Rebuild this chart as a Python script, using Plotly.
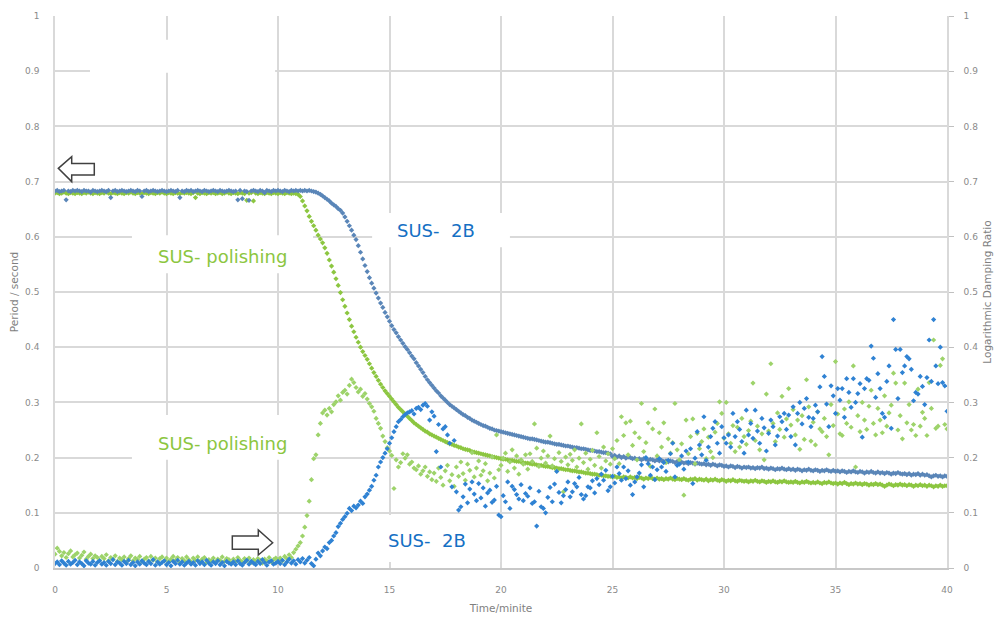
import plotly.graph_objects as go

# ---------------- data ----------------
# sampling instants (minutes), one reading every 0.1 min
time_min = [round(i * 0.1, 1) for i in range(401)]

# Period / second  (SUS-2B)
period_2b = [
    0.683, 0.684, 0.682, 0.683, 0.684, 0.667, 0.683, 0.682, 0.684, 0.683,
    0.684, 0.683, 0.682, 0.684, 0.683, 0.683, 0.681, 0.684, 0.683, 0.682,
    0.683, 0.684, 0.683, 0.682, 0.684, 0.671, 0.683, 0.684, 0.682, 0.683,
    0.684, 0.683, 0.682, 0.683, 0.684, 0.683, 0.682, 0.684, 0.683, 0.673,
    0.683, 0.684, 0.682, 0.683, 0.684, 0.683, 0.682, 0.683, 0.684, 0.683,
    0.682, 0.683, 0.684, 0.683, 0.682, 0.684, 0.671, 0.683, 0.682, 0.684,
    0.683, 0.684, 0.682, 0.683, 0.684, 0.683, 0.682, 0.684, 0.683, 0.682,
    0.683, 0.684, 0.683, 0.682, 0.684, 0.683, 0.682, 0.683, 0.684, 0.683,
    0.682, 0.683, 0.667, 0.684, 0.669, 0.683, 0.682, 0.666, 0.683, 0.684,
    0.683, 0.682, 0.684, 0.683, 0.680, 0.684, 0.683, 0.682, 0.684, 0.683,
    0.684, 0.683, 0.682, 0.684, 0.683, 0.682, 0.684, 0.683, 0.684, 0.683,
    0.684, 0.683, 0.684, 0.683, 0.684, 0.683, 0.682, 0.681, 0.679, 0.677,
    0.674, 0.671, 0.668, 0.665, 0.661, 0.658, 0.655, 0.651, 0.648, 0.643,
    0.636, 0.628, 0.620, 0.612, 0.603, 0.595, 0.584, 0.572, 0.560, 0.548,
    0.537, 0.526, 0.516, 0.507, 0.498, 0.489, 0.480, 0.472, 0.463, 0.455,
    0.447, 0.439, 0.432, 0.426, 0.419, 0.413, 0.407, 0.401, 0.396, 0.390,
    0.384, 0.379, 0.372, 0.366, 0.360, 0.354, 0.347, 0.341, 0.336, 0.331,
    0.326, 0.321, 0.317, 0.312, 0.308, 0.304, 0.300, 0.296, 0.293, 0.290,
    0.287, 0.284, 0.281, 0.278, 0.276, 0.273, 0.271, 0.268, 0.266, 0.264,
    0.262, 0.260, 0.258, 0.257, 0.255, 0.253, 0.252, 0.250, 0.249, 0.248,
    0.247, 0.246, 0.245, 0.244, 0.243, 0.242, 0.241, 0.240, 0.239, 0.238,
    0.237, 0.236, 0.235, 0.234, 0.234, 0.233, 0.232, 0.231, 0.230, 0.229,
    0.228, 0.228, 0.227, 0.226, 0.225, 0.224, 0.224, 0.223, 0.222, 0.221,
    0.221, 0.220, 0.219, 0.218, 0.218, 0.217, 0.216, 0.216, 0.215, 0.214,
    0.213, 0.213, 0.212, 0.211, 0.211, 0.210, 0.209, 0.209, 0.208, 0.207,
    0.202, 0.204, 0.201, 0.203, 0.200, 0.202, 0.199, 0.201, 0.200, 0.198,
    0.199, 0.197, 0.198, 0.196, 0.198, 0.197, 0.195, 0.197, 0.196, 0.194,
    0.196, 0.194, 0.195, 0.193, 0.194, 0.192, 0.194, 0.193, 0.191, 0.193,
    0.191, 0.192, 0.190, 0.191, 0.189, 0.191, 0.190, 0.188, 0.190, 0.189,
    0.188, 0.189, 0.187, 0.188, 0.186, 0.188, 0.187, 0.185, 0.187, 0.186,
    0.184, 0.185, 0.183, 0.185, 0.184, 0.182, 0.184, 0.183, 0.181, 0.183,
    0.182, 0.183, 0.181, 0.182, 0.180, 0.182, 0.181, 0.183, 0.180, 0.181,
    0.179, 0.181, 0.180, 0.178, 0.180, 0.179, 0.181, 0.179, 0.178, 0.180,
    0.178, 0.179, 0.177, 0.179, 0.178, 0.176, 0.178, 0.177, 0.179, 0.177,
    0.176, 0.178, 0.177, 0.175, 0.177, 0.176, 0.178, 0.176, 0.175, 0.177,
    0.175, 0.176, 0.174, 0.176, 0.175, 0.173, 0.175, 0.174, 0.176, 0.174,
    0.173, 0.175, 0.174, 0.172, 0.174, 0.173, 0.175, 0.173, 0.172, 0.174,
    0.172, 0.173, 0.171, 0.173, 0.172, 0.170, 0.172, 0.171, 0.173, 0.171,
    0.170, 0.171, 0.169, 0.171, 0.168, 0.170, 0.169, 0.171, 0.168, 0.170,
    0.168, 0.169, 0.167, 0.165, 0.167, 0.168, 0.166, 0.167, 0.165, 0.167,
    0.166,
]

# Period / second  (SUS-polishing)
period_polishing = [
    0.679, 0.680, 0.678, 0.679, 0.681, 0.679, 0.678, 0.680, 0.679, 0.678,
    0.680, 0.679, 0.678, 0.680, 0.679, 0.681, 0.679, 0.678, 0.680, 0.679,
    0.678, 0.680, 0.679, 0.681, 0.679, 0.678, 0.680, 0.679, 0.678, 0.680,
    0.679, 0.678, 0.680, 0.679, 0.681, 0.679, 0.678, 0.680, 0.679, 0.678,
    0.680, 0.679, 0.678, 0.680, 0.679, 0.678, 0.680, 0.679, 0.681, 0.679,
    0.678, 0.680, 0.679, 0.678, 0.680, 0.679, 0.678, 0.680, 0.679, 0.680,
    0.679, 0.678, 0.680, 0.671, 0.679, 0.678, 0.680, 0.679, 0.678, 0.680,
    0.679, 0.680, 0.678, 0.679, 0.680, 0.678, 0.679, 0.681, 0.679, 0.678,
    0.680, 0.679, 0.678, 0.680, 0.679, 0.678, 0.666, 0.679, 0.680, 0.665,
    0.679, 0.678, 0.680, 0.679, 0.678, 0.680, 0.679, 0.678, 0.680, 0.679,
    0.678, 0.680, 0.679, 0.678, 0.680, 0.679, 0.678, 0.679, 0.678, 0.677,
    0.673, 0.665, 0.656, 0.647, 0.637, 0.628, 0.620, 0.612, 0.603, 0.596,
    0.589, 0.580, 0.570, 0.558, 0.547, 0.536, 0.524, 0.512, 0.499, 0.486,
    0.474, 0.462, 0.450, 0.438, 0.428, 0.418, 0.409, 0.400, 0.392, 0.385,
    0.378, 0.370, 0.362, 0.354, 0.347, 0.340, 0.333, 0.327, 0.321, 0.316,
    0.311, 0.306, 0.301, 0.296, 0.291, 0.287, 0.283, 0.279, 0.275, 0.271,
    0.267, 0.263, 0.260, 0.257, 0.254, 0.251, 0.248, 0.246, 0.243, 0.241,
    0.239, 0.237, 0.235, 0.233, 0.231, 0.229, 0.227, 0.225, 0.224, 0.222,
    0.221, 0.219, 0.218, 0.216, 0.215, 0.214, 0.213, 0.211, 0.210, 0.209,
    0.208, 0.207, 0.206, 0.205, 0.204, 0.203, 0.202, 0.201, 0.200, 0.199,
    0.198, 0.197, 0.197, 0.196, 0.195, 0.195, 0.194, 0.193, 0.193, 0.192,
    0.191, 0.190, 0.190, 0.189, 0.188, 0.188, 0.187, 0.186, 0.186, 0.185,
    0.184, 0.184, 0.183, 0.182, 0.182, 0.181, 0.180, 0.180, 0.179, 0.178,
    0.178, 0.177, 0.176, 0.176, 0.175, 0.174, 0.174, 0.173, 0.172, 0.172,
    0.171, 0.170, 0.170, 0.169, 0.168, 0.168, 0.167, 0.167, 0.166, 0.166,
    0.165, 0.166, 0.164, 0.165, 0.163, 0.165, 0.164, 0.163, 0.165, 0.163,
    0.164, 0.162, 0.164, 0.163, 0.161, 0.163, 0.162, 0.164, 0.162, 0.161,
    0.163, 0.161, 0.162, 0.160, 0.162, 0.161, 0.163, 0.161, 0.160, 0.162,
    0.161, 0.160, 0.162, 0.160, 0.159, 0.161, 0.160, 0.162, 0.159, 0.161,
    0.160, 0.159, 0.161, 0.158, 0.160, 0.159, 0.161, 0.159, 0.158, 0.160,
    0.159, 0.157, 0.159, 0.158, 0.160, 0.158, 0.157, 0.159, 0.158, 0.157,
    0.158, 0.156, 0.158, 0.157, 0.159, 0.157, 0.156, 0.158, 0.157, 0.155,
    0.157, 0.156, 0.158, 0.156, 0.155, 0.157, 0.156, 0.158, 0.156, 0.155,
    0.156, 0.155, 0.157, 0.155, 0.154, 0.156, 0.155, 0.157, 0.155, 0.154,
    0.155, 0.154, 0.156, 0.154, 0.153, 0.155, 0.154, 0.156, 0.154, 0.153,
    0.154, 0.152, 0.154, 0.153, 0.155, 0.153, 0.151, 0.153, 0.152, 0.154,
    0.152, 0.153, 0.151, 0.153, 0.152, 0.150, 0.152, 0.151, 0.153, 0.151,
    0.152, 0.150, 0.148, 0.150, 0.152, 0.151, 0.149, 0.151, 0.150, 0.152,
    0.150, 0.151, 0.149, 0.151, 0.150, 0.148, 0.150, 0.149, 0.151, 0.149,
    0.150, 0.148, 0.150, 0.149, 0.147, 0.149, 0.148, 0.150, 0.148, 0.149,
    0.149,
]

# Logarithmic damping ratio  (SUS-polishing)
ldr_polishing = [
    0.025, 0.036, 0.030, 0.022, 0.028, 0.019, 0.026, 0.031, 0.020, 0.024,
    0.027, 0.018, 0.023, 0.029, 0.016, 0.021, 0.025, 0.017, 0.022, 0.019,
    0.014, 0.021, 0.017, 0.024, 0.013, 0.019, 0.016, 0.022, 0.012, 0.018,
    0.015, 0.020, 0.011, 0.017, 0.022, 0.013, 0.018, 0.015, 0.021, 0.012,
    0.016, 0.019, 0.013, 0.021, 0.014, 0.018, 0.011, 0.017, 0.020, 0.013,
    0.018, 0.012, 0.016, 0.021, 0.014, 0.019, 0.010, 0.017, 0.013, 0.020,
    0.015, 0.011, 0.018, 0.014, 0.020, 0.012, 0.016, 0.019, 0.010, 0.015,
    0.013, 0.018, 0.011, 0.016, 0.014, 0.020, 0.012, 0.017, 0.015, 0.010,
    0.016, 0.012, 0.019, 0.014, 0.011, 0.017, 0.013, 0.018, 0.010, 0.015,
    0.012, 0.017, 0.014, 0.009, 0.016, 0.013, 0.019, 0.011, 0.015, 0.018,
    0.014, 0.018, 0.013, 0.021, 0.017, 0.024, 0.019, 0.028, 0.034, 0.040,
    0.046, 0.058, 0.074, 0.095, 0.121, 0.160, 0.198, 0.205, 0.241, 0.262,
    0.281, 0.286, 0.277, 0.289, 0.283, 0.296, 0.301, 0.312, 0.304, 0.318,
    0.322, 0.315, 0.331, 0.342, 0.336, 0.327, 0.319, 0.324, 0.311, 0.316,
    0.306, 0.298, 0.292, 0.284, 0.271, 0.262, 0.253, 0.239, 0.229, 0.218,
    0.212, 0.204, 0.144, 0.196, 0.183, 0.191, 0.207, 0.199, 0.205, 0.188,
    0.192, 0.181, 0.178, 0.185, 0.170, 0.176, 0.183, 0.166, 0.174, 0.160,
    0.172, 0.157, 0.181, 0.164, 0.150, 0.176, 0.186, 0.158, 0.169, 0.148,
    0.183, 0.166, 0.192, 0.171, 0.159, 0.188, 0.177, 0.209, 0.165, 0.181,
    0.194, 0.168, 0.176, 0.189, 0.158, 0.172, 0.201, 0.163, 0.241, 0.178,
    0.186, 0.199, 0.208, 0.175, 0.192, 0.214, 0.181, 0.203, 0.170, 0.196,
    0.188, 0.205, 0.179, 0.207, 0.193, 0.261, 0.217, 0.184, 0.199, 0.212,
    0.190, 0.203, 0.239, 0.185, 0.198, 0.176, 0.209, 0.193, 0.138, 0.201,
    0.187, 0.206, 0.195, 0.214, 0.183, 0.199, 0.261, 0.191, 0.208, 0.179,
    0.197, 0.213, 0.186, 0.245, 0.202, 0.181, 0.219, 0.194, 0.207, 0.188,
    0.216, 0.198, 0.231, 0.189, 0.274, 0.240, 0.263, 0.205, 0.266, 0.222,
    0.245, 0.196, 0.236, 0.298, 0.211, 0.227, 0.263, 0.184, 0.252, 0.288,
    0.203, 0.245, 0.219, 0.263, 0.191, 0.234, 0.208, 0.227, 0.298, 0.214,
    0.196, 0.225, 0.132, 0.268, 0.207, 0.238, 0.270, 0.189, 0.244, 0.216,
    0.229, 0.252, 0.198, 0.237, 0.211, 0.200, 0.246, 0.262, 0.301, 0.280,
    0.235, 0.300, 0.243, 0.226, 0.258, 0.211, 0.255, 0.219, 0.271, 0.238,
    0.224, 0.249, 0.266, 0.335, 0.231, 0.257, 0.214, 0.243, 0.196, 0.315,
    0.248, 0.370, 0.262, 0.229, 0.281, 0.251, 0.311, 0.237, 0.270, 0.325,
    0.259, 0.287, 0.241, 0.268, 0.215, 0.276, 0.233, 0.341, 0.292, 0.230,
    0.264, 0.223, 0.283, 0.252, 0.247, 0.271, 0.238, 0.205, 0.296, 0.258,
    0.374, 0.279, 0.243, 0.240, 0.288, 0.262, 0.301, 0.255, 0.366, 0.183,
    0.276, 0.247, 0.300, 0.268, 0.251, 0.293, 0.322, 0.262, 0.241, 0.289,
    0.268, 0.245, 0.312, 0.257, 0.281, 0.295, 0.353, 0.335, 0.250, 0.276,
    0.234, 0.335, 0.263, 0.296, 0.250, 0.260, 0.240, 0.324, 0.257, 0.282,
    0.271, 0.240, 0.336, 0.289, 0.413, 0.253, 0.257, 0.367, 0.379, 0.260,
    0.252,
]

# Logarithmic damping ratio  (SUS-2B)
ldr_2b = [
    0.008, 0.011, 0.006, 0.013, 0.009, 0.005, 0.012, 0.007, 0.010, 0.014,
    0.006, 0.011, 0.008, 0.004, 0.013, 0.009, 0.007, 0.012, 0.005, 0.010,
    0.013, 0.007, 0.010, 0.005, 0.012, 0.008, 0.015, 0.006, 0.011, 0.009,
    0.005, 0.012, 0.008, 0.014, 0.006, 0.010, 0.004, 0.011, 0.007, 0.013,
    0.009, 0.006, 0.012, 0.008, 0.015, 0.005, 0.011, 0.007, 0.010, 0.013,
    0.006, 0.010, 0.004, 0.012, 0.008, 0.014, 0.007, 0.011, 0.005, 0.009,
    0.012, 0.007, 0.010, 0.005, 0.013, 0.008, 0.011, 0.006, 0.014, 0.009,
    0.005, 0.011, 0.008, 0.013, 0.006, 0.010, 0.004, 0.012, 0.009, 0.007,
    0.011, 0.006, 0.013, 0.008, 0.005, 0.010, 0.014, 0.007, 0.012, 0.009,
    0.006, 0.012, 0.008, 0.015, 0.010, 0.005, 0.011, 0.013, 0.007, 0.009,
    0.012, 0.008, 0.014, 0.006, 0.011, 0.016, 0.009, 0.013, 0.007, 0.015,
    0.011, 0.017, 0.009, 0.014, 0.019, 0.008, 0.004, 0.016, 0.027, 0.022,
    0.031, 0.038, 0.035, 0.046, 0.050, 0.058, 0.064, 0.075, 0.081, 0.088,
    0.093, 0.099, 0.108, 0.104, 0.112, 0.109, 0.114, 0.121, 0.117, 0.129,
    0.134, 0.141, 0.148, 0.159, 0.168, 0.183, 0.192, 0.200, 0.208, 0.216,
    0.226, 0.236, 0.247, 0.256, 0.265, 0.269, 0.274, 0.278, 0.281, 0.283,
    0.285, 0.279, 0.289, 0.291, 0.287, 0.295, 0.298, 0.293, 0.268, 0.283,
    0.275, 0.211, 0.260, 0.183, 0.252, 0.256, 0.241, 0.226, 0.147, 0.231,
    0.138, 0.105, 0.111, 0.129, 0.152, 0.118, 0.143, 0.156, 0.134, 0.122,
    0.153, 0.127, 0.145, 0.112, 0.136, 0.141, 0.119, 0.123, 0.148, 0.096,
    0.093, 0.131, 0.120, 0.156, 0.108, 0.148, 0.142, 0.133, 0.125, 0.151,
    0.122, 0.135, 0.130, 0.145, 0.117, 0.120, 0.076, 0.139, 0.111, 0.108,
    0.100, 0.128, 0.146, 0.120, 0.152, 0.175, 0.137, 0.118, 0.131, 0.142,
    0.156, 0.129, 0.138, 0.153, 0.147, 0.164, 0.133, 0.125, 0.131, 0.147,
    0.145, 0.158, 0.136, 0.162, 0.151, 0.170, 0.159, 0.177, 0.140, 0.147,
    0.166, 0.154, 0.183, 0.171, 0.159, 0.183, 0.162, 0.176, 0.150, 0.133,
    0.156, 0.165, 0.172, 0.187, 0.147, 0.200, 0.189, 0.168, 0.183, 0.160,
    0.178, 0.198, 0.183, 0.191, 0.175, 0.195, 0.207, 0.226, 0.165, 0.186,
    0.188, 0.203, 0.179, 0.212, 0.192, 0.216, 0.153, 0.199, 0.247, 0.223,
    0.205, 0.274, 0.195, 0.219, 0.238, 0.253, 0.265, 0.226, 0.208, 0.256,
    0.236, 0.226, 0.241, 0.219, 0.280, 0.238, 0.265, 0.251, 0.229, 0.208,
    0.286, 0.241, 0.262, 0.235, 0.286, 0.248, 0.226, 0.271, 0.254, 0.212,
    0.244, 0.268, 0.256, 0.223, 0.239, 0.274, 0.265, 0.280, 0.251, 0.277,
    0.238, 0.292, 0.223, 0.280, 0.300, 0.261, 0.289, 0.307, 0.273, 0.256,
    0.271, 0.295, 0.283, 0.328, 0.383, 0.347, 0.297, 0.256, 0.330, 0.312,
    0.280, 0.325, 0.304, 0.325, 0.273, 0.343, 0.318, 0.291, 0.343, 0.300,
    0.316, 0.334, 0.237, 0.325, 0.343, 0.340, 0.402, 0.380, 0.309, 0.352,
    0.325, 0.280, 0.273, 0.338, 0.366, 0.253, 0.450, 0.396, 0.307, 0.396,
    0.354, 0.366, 0.383, 0.379, 0.360, 0.303, 0.318, 0.315, 0.347, 0.329,
    0.296, 0.345, 0.413, 0.338, 0.450, 0.366, 0.334, 0.400, 0.336, 0.330,
    0.284,
]

x_tick_vals = [0, 5, 10, 15, 20, 25, 30, 35, 40]
y_tick_vals = [0, 0.1, 0.2, 0.3, 0.4, 0.5, 0.6, 0.7, 0.8, 0.9, 1]
y_tick_text = ["0", "0.1", "0.2", "0.3", "0.4", "0.5", "0.6", "0.7", "0.8", "0.9", "1"]

labels = ["SUS- polishing", "SUS-\u00a0\u00a02B"]

for s in (period_2b, period_polishing, ldr_polishing, ldr_2b):
    assert len(s) == len(time_min), len(s)

# ---------------- styling ----------------
C_PER_2B = "#5a86b8"
C_PER_POL = "#8cc640"
C_LDR_2B = "#2f82d3"
C_LDR_POL = "#9dd36a"
TXT_BLUE = "#1570c4"
TXT_GREEN = "#8cc63f"
GRID = "#d9d9d9"
TICK_FONT = dict(family="DejaVu Sans", size=9, color="#8a8a8a")
TITLE_FONT = dict(family="DejaVu Sans", size=10.5, color="#7f7f7f")

fig = go.Figure()


def add(y, color, axis):
    fig.add_trace(go.Scatter(
        x=time_min, y=y, mode="markers", yaxis=axis, showlegend=False,
        marker=dict(symbol="diamond", size=4, color=color, line=dict(width=0)),
        hoverinfo="skip"))


add(period_polishing, C_PER_POL, "y")
add(period_2b, C_PER_2B, "y")
add(ldr_polishing, C_LDR_POL, "y2")
add(ldr_2b, C_LDR_2B, "y2")

# white text boxes that mask the grid (x in minutes, y in axis units)
boxes = [
    (3.45, 11.57, 0.534, 0.603),
    (14.22, 20.40, 0.581, 0.643),
    (3.45, 11.57, 0.196, 0.277),
    (13.81, 19.96, 0.011, 0.096),
    (1.57, 9.87, 0.897, 0.957),
]
for x0, x1, y0, y1 in boxes:
    fig.add_shape(type="rect", xref="x", yref="y", x0=x0, x1=x1, y0=y0, y1=y1,
                  fillcolor="white", line=dict(width=0), layer="between")

# hollow arrows
arrow_left = "M 0.148,0.724 L 0.749,0.745 L 0.749,0.733 L 1.762,0.733 L 1.762,0.712 L 0.749,0.712 L 0.749,0.700 Z"
arrow_right = "M 9.762,0.0458 L 9.117,0.0688 L 9.117,0.058 L 7.951,0.058 L 7.951,0.0339 L 9.117,0.0339 L 9.117,0.0236 Z"
for p in (arrow_left, arrow_right):
    fig.add_shape(type="path", path=p, xref="x", yref="y",
                  fillcolor="white", line=dict(color="#404040", width=1.5), layer="above")

# series labels
label_specs = [
    (7.49, 0.565, labels[0], TXT_GREEN),
    (17.10, 0.612, labels[1], TXT_BLUE),
    (7.49, 0.225, labels[0], TXT_GREEN),
    (16.70, 0.049, labels[1], TXT_BLUE),
]
for x, y, t, c in label_specs:
    fig.add_annotation(x=x, y=y, xref="x", yref="y", text=t, showarrow=False,
                       font=dict(family="DejaVu Sans", size=18, color=c),
                       xanchor="center", yanchor="middle")

fig.update_layout(
    width=999, height=617, autosize=False,
    margin=dict(l=55, r=52, t=16, b=49),
    paper_bgcolor="white", plot_bgcolor="white",
    xaxis=dict(
        range=[0, 40], tickvals=x_tick_vals, ticktext=[str(v) for v in x_tick_vals],
        showgrid=True, gridcolor=GRID, gridwidth=1.5, zeroline=False,
        showline=True, linecolor="#c8c8c8", linewidth=1.5,
        ticks="", tickfont=TICK_FONT, ticklabelstandoff=12, automargin=False,
        title=dict(text="Time/minite", font=TITLE_FONT, standoff=11),
        fixedrange=True,
    ),
    yaxis=dict(
        range=[0, 1], tickvals=y_tick_vals, ticktext=y_tick_text,
        showgrid=True, gridcolor=GRID, gridwidth=1.5, zeroline=False,
        showline=True, linecolor=GRID, linewidth=1.5,
        ticks="", tickfont=TICK_FONT, ticklabelstandoff=12, automargin=False,
        title=dict(text="Period / second", font=TITLE_FONT, standoff=4),
        fixedrange=True,
    ),
    yaxis2=dict(
        range=[0, 1], tickvals=y_tick_vals, ticktext=y_tick_text,
        overlaying="y", side="right", showgrid=False, zeroline=False,
        showline=True, linecolor=GRID, linewidth=1.5,
        ticks="outside", ticklen=5, tickcolor="#c0c0c0", tickwidth=1,
        tickfont=TICK_FONT, ticklabelstandoff=8, automargin=False,
        title=dict(text="Logarithmic Damping Ratio", font=TITLE_FONT, standoff=7),
        fixedrange=True,
    ),
)

fig.write_html("out.html", config={"displayModeBar": False})
